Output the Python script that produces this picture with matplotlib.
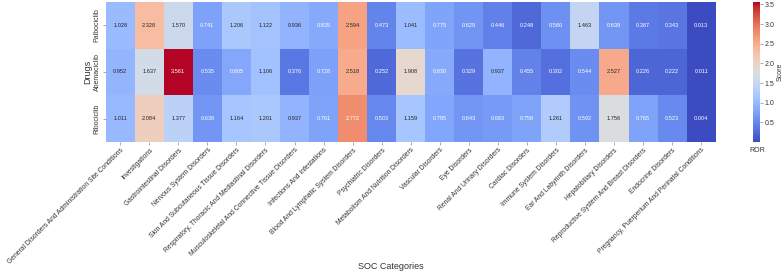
import matplotlib
matplotlib.use("Agg")
import matplotlib.pyplot as plt
import seaborn as sns
import numpy as np

plt.rcParams['font.family'] = ['Liberation Sans', 'DejaVu Sans']

drugs = ['Palbociclib', 'Abemaciclib', 'Ribociclib']
soc = ['General Disorders And Administration Site Conditions', 'Investigations',
       'Gastrointestinal Disorders', 'Nervous System Disorders',
       'Skin And Subcutaneous Tissue Disorders',
       'Respiratory, Thoracic And Mediastinal Disorders',
       'Musculoskeletal And Connective Tissue Disorders',
       'Infections And Infestations', 'Blood And Lymphatic System Disorders',
       'Psychiatric Disorders', 'Metabolism And Nutrition Disorders',
       'Vascular Disorders', 'Eye Disorders', 'Renal And Urinary Disorders',
       'Cardiac Disorders', 'Immune System Disorders',
       'Ear And Labyrinth Disorders', 'Hepatobiliary Disorders',
       'Reproductive System And Breast Disorders', 'Endocrine Disorders',
       'Pregnancy, Puerperium And Perinatal Conditions']

palbo = [1.028, 2.328, 1.570, 0.741, 1.206, 1.122, 0.936, 0.835, 2.594, 0.473, 1.041,
         0.775, 0.629, 0.446, 0.248, 0.580, 1.463, 0.639, 0.387, 0.343, 0.013]
abema = [0.952, 1.637, 3.561, 0.535, 0.805, 1.106, 0.376, 0.728, 2.518, 0.252, 1.908,
         0.830, 0.329, 0.937, 0.455, 0.302, 0.544, 2.527, 0.226, 0.222, 0.011]
ribo = [1.011, 2.084, 1.377, 0.638, 1.164, 1.201, 0.937, 0.761, 2.772, 0.503, 1.159,
        0.795, 0.643, 0.683, 0.758, 1.261, 0.592, 1.756, 0.765, 0.523, 0.004]

data = np.array([palbo, abema, ribo])

fig = plt.figure(figsize=(7.83, 2.75), dpi=100)
ax = fig.add_axes([0.135, 0.484, 0.779, 0.509])
cax = fig.add_axes([0.962, 0.484, 0.009, 0.509])

sns.heatmap(data, ax=ax, cbar_ax=cax, cmap='coolwarm', annot=True, fmt='.3f',
            annot_kws={'size': 4.1}, xticklabels=soc, yticklabels=drugs)

ax.set_xticklabels(soc, rotation=45, ha='right', rotation_mode='anchor', fontsize=4.9, color='#333333')
ax.set_yticklabels(drugs, rotation=90, va='center', fontsize=5, color='#333333')
ax.set_xlabel('SOC Categories', fontsize=6.5, color='#333333')
ax.xaxis.set_label_coords(0.468, -0.86)
ax.set_ylabel('Drugs', fontsize=6.5, color='#333333', labelpad=1)
ax.tick_params(length=2, width=0.5, colors='#888888', labelcolor='#333333', pad=1.5)

cax.tick_params(labelsize=5, length=2, width=0.5, colors='#888888', labelcolor='#333333', pad=1)
cax.set_ylabel('Score', fontsize=5, color='#333333', labelpad=2)
cax.set_xlabel('ROR', fontsize=5, color='#333333', labelpad=4)

fig.savefig('out.png', dpi=100)
